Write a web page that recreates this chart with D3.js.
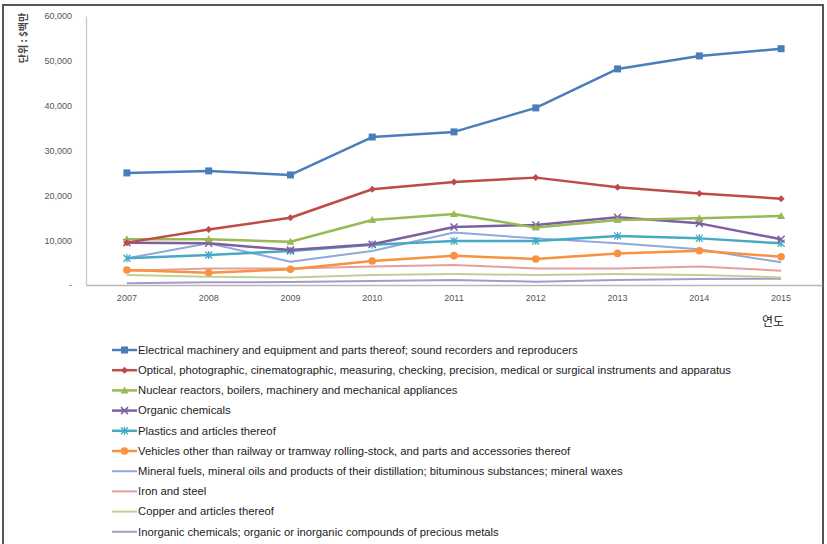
<!DOCTYPE html>
<html><head><meta charset="utf-8">
<script src="https://cdn.jsdelivr.net/npm/d3@7"></script>
<style>body{margin:0;background:#fff}svg{display:block}</style>
</head><body>
<script>
const years = ["2007","2008","2009","2010","2011","2012","2013","2014","2015"];
const seriesNames = [
  "Electrical machinery and equipment and parts thereof; sound recorders and reproducers",
  "Optical, photographic, cinematographic, measuring, checking, precision, medical or surgical instruments and apparatus",
  "Nuclear reactors, boilers, machinery and mechanical appliances",
  "Organic chemicals",
  "Plastics and articles thereof",
  "Vehicles other than railway or tramway rolling-stock, and parts and accessories thereof",
  "Mineral fuels, mineral oils and products of their distillation; bituminous substances; mineral waxes",
  "Iron and steel",
  "Copper and articles thereof",
  "Inorganic chemicals; organic or inorganic compounds of precious metals"
];
const electrical = [25000,25450,24550,33000,34150,39500,48200,51100,52700];
const optical    = [9450,12400,15000,21350,23000,23950,21800,20400,19250];
const nuclear    = [10200,10200,9650,14500,15850,12800,14500,14900,15400];
const organic    = [9450,9300,7800,9100,12950,13400,15100,13750,10200];
const plastics   = [5950,6700,7600,9000,9800,9800,10950,10400,9300];
const vehicles   = [3350,2750,3500,5350,6550,5800,7050,7650,6300];
const mineral    = [5950,9300,5200,7600,11700,10400,9300,7950,5050];
const ironSteel  = [3200,3700,3700,4100,4450,3700,3700,4100,3200];
const copper     = [2250,1850,1650,2250,2450,2250,2450,2250,1700];
const inorganic  = [400,600,650,900,1100,750,1100,1350,1400];
const yTicks = [0,10000,20000,30000,40000,50000,60000];
const yTitle = "단위 : $백만";
const xTitle = "연도";

const allValues = [electrical,optical,nuclear,organic,plastics,vehicles,mineral,ironSteel,copper,inorganic];
const colors = ["#4A7EBB","#BE4B48","#98B954","#7D60A0","#46AAC5","#F69240","#8EA9DB","#E3A09E","#BDD393","#A99BC9"];
const markers = ["square","diamond","triangle","x","star","circle",null,null,null,null];
const widths = [2.5,2.5,2.5,2.5,2.5,2.5,2,2,2,2];

const W=827,H=544;
const svg=d3.select("body").append("svg").attr("width",W).attr("height",H);
svg.append("rect").attr("x",3).attr("y",5).attr("width",820).attr("height",560)
  .attr("fill","#fff").attr("stroke","#555").attr("stroke-width",2);

const x=d3.scaleBand().domain(years).range([86,822]);
const xc=d=>x(d)+x.bandwidth()/2;
const y=d3.scaleLinear().domain([0,60000]).range([285,16]);

const font="'Liberation Sans', Arial, sans-serif";
const yAxis=svg.append("g").attr("transform","translate(86,0)")
  .call(d3.axisLeft(y).tickValues(yTicks).tickSize(0).tickPadding(14)
    .tickFormat(v=>v===0?"-":d3.format(",")(v)));
yAxis.select(".domain").attr("stroke","#c8c8c8").attr("stroke-width",1.3);
yAxis.selectAll("text").attr("font-family",font).attr("font-size",9).attr("fill","#555");

const xAxis=svg.append("g").attr("transform","translate(0,285)")
  .call(d3.axisBottom(x).tickSize(0).tickPadding(10));
xAxis.select(".domain").attr("stroke","#b8b8b8").attr("stroke-width",1.3);
xAxis.selectAll("text").attr("font-family",font).attr("font-size",9).attr("fill","#555");

svg.append("text").attr("transform","translate(27,38) rotate(-90)").attr("text-anchor","middle")
  .attr("font-family","'Noto Sans CJK KR', sans-serif").attr("font-size",10).attr("font-weight","bold").attr("fill","#444").text(yTitle);
svg.append("text").attr("x",773).attr("y",326).attr("text-anchor","middle")
  .attr("font-family","'Noto Sans CJK KR', sans-serif").attr("font-size",12).attr("fill","#222").text(xTitle);

function drawMarker(g,type,cx,cy,color){
  if(!type) return;
  if(type==="square") g.append("rect").attr("x",cx-3.5).attr("y",cy-3.5).attr("width",7).attr("height",7).attr("fill",color);
  else if(type==="diamond") g.append("path").attr("d",`M${cx},${cy-3.5}L${cx+3.5},${cy}L${cx},${cy+3.5}L${cx-3.5},${cy}Z`).attr("fill",color);
  else if(type==="triangle") g.append("path").attr("d",`M${cx},${cy-4}L${cx+4},${cy+3}L${cx-4},${cy+3}Z`).attr("fill",color);
  else if(type==="circle") g.append("circle").attr("cx",cx).attr("cy",cy).attr("r",3.8).attr("fill",color);
  else if(type==="x") g.append("path").attr("d",`M${cx-3.5},${cy-3.5}L${cx+3.5},${cy+3.5}M${cx-3.5},${cy+3.5}L${cx+3.5},${cy-3.5}`).attr("stroke",color).attr("stroke-width",1.5);
  else if(type==="star") g.append("path").attr("d",`M${cx-3.5},${cy-3.5}L${cx+3.5},${cy+3.5}M${cx-3.5},${cy+3.5}L${cx+3.5},${cy-3.5}M${cx},${cy-4}L${cx},${cy+4}`).attr("stroke",color).attr("stroke-width",1.3);
}

const line=d3.line().x((d,i)=>xc(years[i])).y(d=>y(d));
const order=[9,8,7,6,5,4,3,2,1,0];
order.forEach(k=>{
  const g=svg.append("g");
  g.append("path").attr("d",line(allValues[k])).attr("fill","none").attr("stroke",colors[k])
    .attr("stroke-width",widths[k]).attr("stroke-linejoin","round");
  allValues[k].forEach((v,i)=>drawMarker(g,markers[k],xc(years[i]),y(v),colors[k]));
});

// legend
const lg=svg.append("g");
const rowY=i=>350+i*20.2;
seriesNames.forEach((name,i)=>{
  const yy=rowY(i);
  lg.append("line").attr("x1",112).attr("x2",137).attr("y1",yy).attr("y2",yy)
    .attr("stroke",colors[i]).attr("stroke-width",widths[i]);
  drawMarker(lg,markers[i],124.5,yy,colors[i]);
  lg.append("text").attr("class","lt").attr("x",138).attr("y",yy+3.8)
    .attr("font-family",font).attr("font-size",10.5).attr("fill","#222").text(name);
});
// fit font size so first entry spans about 440px as in the reference
const t0=lg.select(".lt").node();
const w0=t0.getComputedTextLength();
const fs=10.5*440/w0;
lg.selectAll(".lt").attr("font-size",fs);
</script>
</body></html>
